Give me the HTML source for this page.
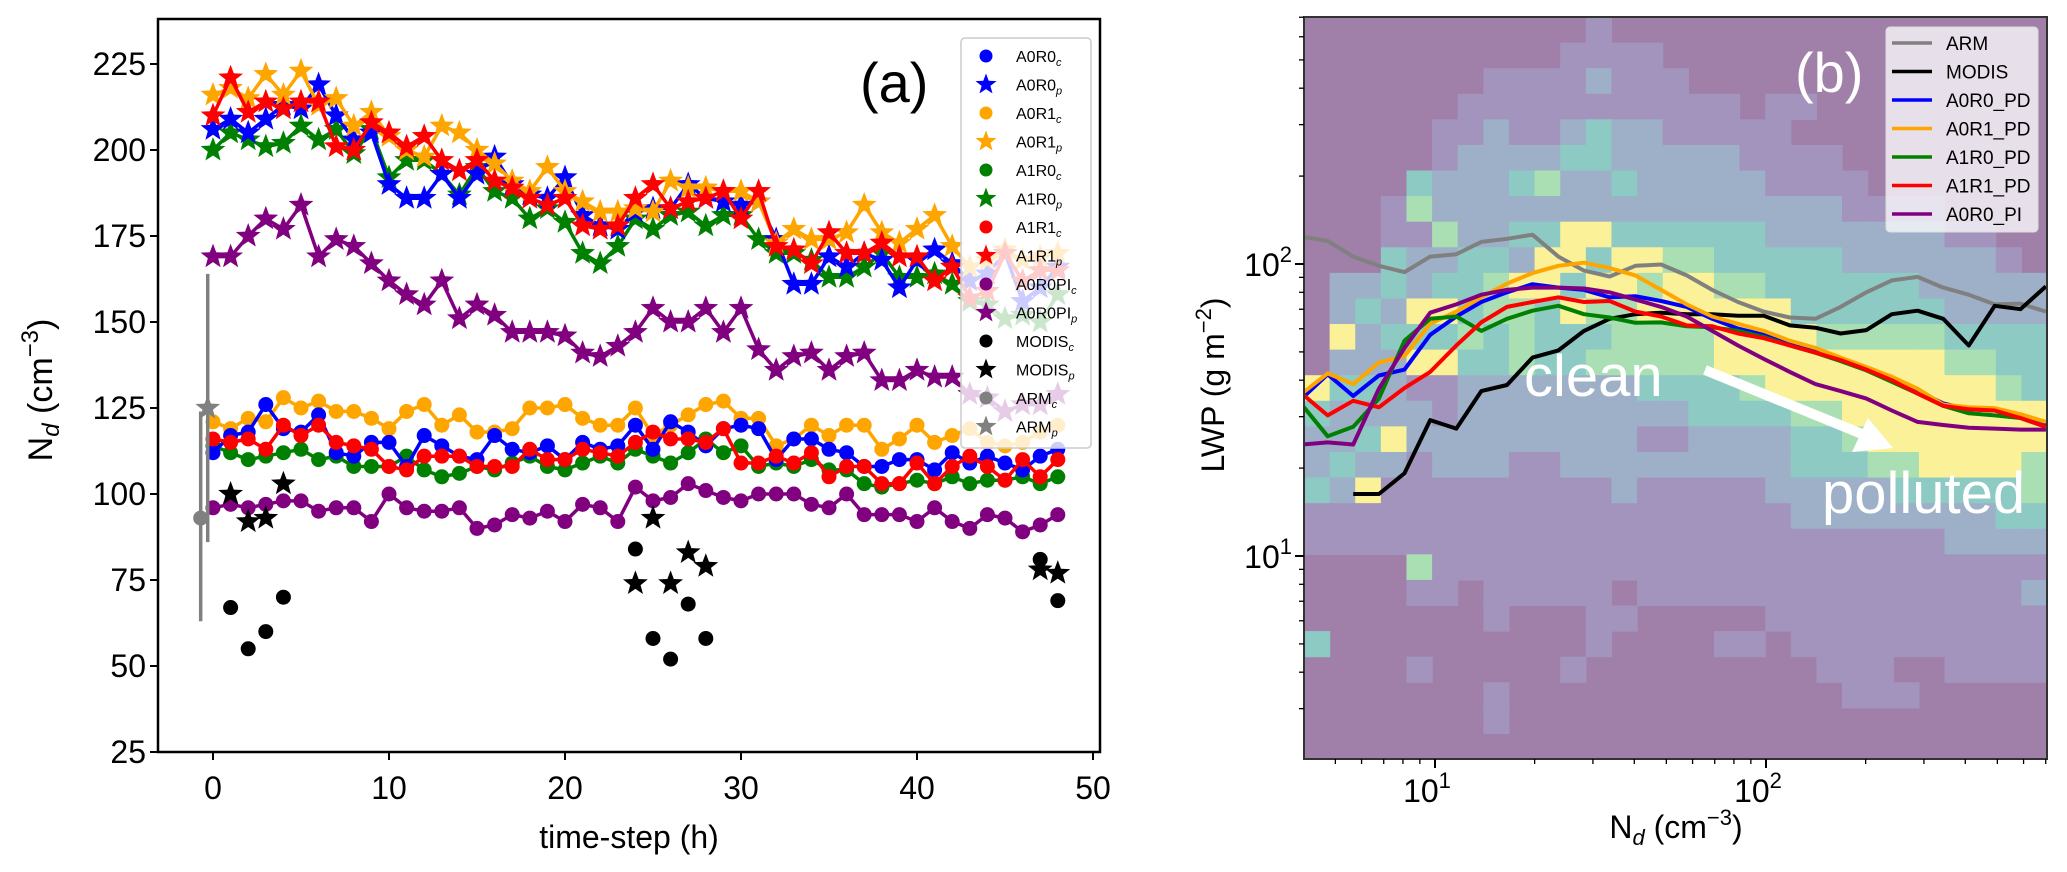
<!DOCTYPE html>
<html><head><meta charset="utf-8"><style>
html,body{margin:0;padding:0;background:#fff;}
svg{display:block;font-family:"Liberation Sans","DejaVu Sans",sans-serif;}
</style></head><body>
<svg id="fig" width="2067" height="872" viewBox="0 0 2067 872" xmlns="http://www.w3.org/2000/svg">
<g id="pa"></g>
<g id="pb"></g>
</svg>
<script>
// ---------- Panel (a) data ----------
const hours = Array.from({length:49},(_,i)=>i);
const a0r1p=[216,218,215,222,216,223,213,215,207,211,204,200,198,207,205,200,196,191,188,195,188,185,182,182,183,182,191,189,189,188,188,185,173,177,174,174,176,184,176,173,177,181,172,166,168,171,168,169,170];
const a0r0p=[206,209,205,209,213,212,219,210,203,205,190,186,186,193,186,193,198,190,187,186,192,181,178,177,182,183,183,190,186,185,184,185,174,161,161,169,166,170,168,160,168,171,167,162,164,170,156,160,166];
const a1r0p=[200,205,203,201,202,207,203,206,199,206,192,197,197,193,187,195,188,186,180,183,179,170,167,172,180,177,181,182,178,181,181,174,170,170,168,163,163,166,170,163,163,164,161,156,155,151,152,150,158];
const a1r1p=[210,221,211,214,212,214,214,201,200,208,205,201,204,197,194,197,191,189,186,184,186,178,177,178,186,190,183,185,186,188,180,188,172,171,167,176,170,170,173,169,169,162,166,157,159,170,162,165,165];
const a0r0pip=[169,169,175,180,177,184,169,174,172,167,162,158,155,162,151,155,152,147,147,147,146,141,140,143,147,154,150,150,154,147,154,142,136,140,141,136,140,141,133,133,136,134,134,129,128,124,126,126,129];
const a0r1c=[121,119,122,121,128,125,127,124,124,122,119,124,126,120,123,118,118,119,125,125,126,122,120,120,125,117,120,123,126,127,122,122,114,116,120,117,120,120,113,116,120,115,117,119,115,114,115,118,120];
const a0r0c=[112,117,118,126,119,118,123,112,111,115,115,108,117,114,111,110,117,113,112,114,110,115,113,114,120,113,121,118,114,119,120,119,110,116,116,113,112,108,108,110,110,107,112,109,111,109,107,111,113];
const a1r0c=[114,112,110,111,112,113,110,111,108,108,108,111,107,105,106,108,107,109,111,108,107,109,111,109,113,111,109,112,116,112,114,108,109,108,110,107,107,103,102,103,104,103,105,103,104,104,105,103,105];
const a1r1c=[116,115,116,113,120,117,120,115,114,113,108,107,111,111,111,108,108,108,113,110,110,113,112,111,115,118,116,116,115,119,109,109,111,109,112,105,108,108,103,103,109,103,108,111,108,104,110,105,110];
const a0r0pic=[96,97,96,97,98,98,95,96,96,92,100,96,95,95,96,90,91,94,93,95,92,97,96,92,102,98,99,103,101,99,98,100,100,100,97,96,100,94,94,94,92,96,92,90,94,93,89,91,94];
const modisT=[1,2,3,4,24,25,26,27,28,47,48];
const modisC=[67,55,60,70,84,58,52,68,58,81,69];
const modisP=[100,92,93,103,74,93,74,83,79,78,77];
const armT=[-0.7,-0.3];
const armVal=[93,125];
const armLo=[63,86];
const armHi=[124,164];
const yTicksA=[25,50,75,100,125,150,175,200,225];
const xTicksA=[0,10,20,30,40,50];

// ---------- Panel (b) data ----------
const ndBins=[3.96,4.74,5.66,6.77,8.09,9.67,11.6,13.8,16.5,19.7,23.6,28.2,33.7,40.3,48.2,57.6,68.8,82.3,98.4,118,141,168,201,240,287,343,410,491,587,701];
const lwpARM=[124,120,106,98.6,93.8,106,108,119,122,126,106,94.9,90.6,98.6,99.6,91.4,81.5,74.1,68.7,65.6,64.9,71.3,80,87.9,90.3,83,78.5,72.7,73.2,68.7];
const lwpMODIS=[null,null,16.3,16.3,19.2,29.2,27.3,36.7,38.5,47.8,50.6,59,64.9,67.3,68.1,67.3,67.3,66.5,66.5,61.6,60.5,57.8,59.4,67.3,69.2,64.9,52.6,71.9,70,83.8];
const lwpA0R0=[34.6,41.9,35.3,41.5,43.5,57.2,66.1,74.1,80,85.3,83,81.5,76.9,77.6,74.7,71.3,64.9,60.1,57.2,53.5,50.6,46.9,43.5,40.3,36.7,33.3,31.8,31.5,29.7,28.1];
const lwpA0R1=[36,42.2,38.8,46,48.4,62.4,68.7,76.9,85.7,93.1,98.6,101,96.8,91.4,81.5,72.7,66.1,62.4,59,54.6,51.6,47.8,44.4,41.1,37.4,33,32.3,32.1,30.6,28.8];
const lwpA1R0=[33,25.7,27.7,34.6,54.6,64.9,66.1,59,64.9,69.2,71.9,67.3,65.6,62.9,63.1,61.2,60.7,59,56.3,52.6,49.7,46.5,43.2,39.5,36,32.7,30.8,30.3,29.7,27.7];
const lwpA1R1=[36,30.3,34,32.3,37.6,42.7,52.6,63.1,71.3,74.1,76.9,74.1,74.7,68.7,66.1,61.6,61.2,57.8,55.7,52.6,49.7,46.9,43.5,40,36,32.7,31.8,31.5,29.7,27.7];
const lwpA0R0PI=[24.1,24.5,24.1,37.4,51.6,68.1,72.7,78.5,81.5,83,83,82.4,80,75.5,71.3,66.1,59,52.6,47.3,42.7,38.8,36.7,34.6,31.5,28.8,28.1,27.5,27.3,27.1,27.1];
const heatRows=[
"00000000000100000000000000000",
"00000000001111000000000000000",
"00000001111211100000000000000",
"00000011111111111011000000000",
"00000112112322111110000000000",
"00000122223322222111100000000",
"00003222342232222211110000000",
"00014222222222222222211110000",
"00011422335533333322222221100",
"00032233255355443333322222210",
"02232334553554554433333322222",
"02325534435445555553333332222",
"05233343433344445555444443333",
"02225533433444445555555554433",
"53321122222223333455555555543",
"32222122222222233334455555555",
"22352222222221122223345555555",
"23221222112222222223334455554",
"32511111111121111122222333334",
"11111111111111111112222222233",
"11111111111111111111111112222",
"00004111111111111111111111111",
"00001101111101111111111111112",
"00000001000110000011111111111",
"30000000000100001101111111111",
"00001000001000000000111001111",
"00000001000000000000011100000",
"00000001000000000000000000000",
"00000000000000000000000000000"];
const heatColors=["#a07fa8","#a394be","#9db0c8","#8ecac4","#a9dfb3","#fbf199"];

const NS="http://www.w3.org/2000/svg";
function mk(tag,attrs,parent){const e=document.createElementNS(NS,tag);for(const k in attrs)e.setAttribute(k,attrs[k]);parent.appendChild(e);return e;}
function starPts(cx,cy,R){const r=R*0.42;let p=[];for(let i=0;i<10;i++){const a=-Math.PI/2+i*Math.PI/5;const rr=i%2?r:R;p.push((cx+rr*Math.cos(a)).toFixed(1)+","+(cy+rr*Math.sin(a)).toFixed(1));}return p.join(" ");}

// ---------- Panel (a) ----------
const pa=document.getElementById('pa');
const AL=158,AR=1100,AT=19,AB=752;
const xA=t=>213+(t-0)*(1093-213)/50;
const yA=v=>752-(v-25)*(752-64)/200;
mk('rect',{x:AL,y:AT,width:AR-AL,height:AB-AT,fill:'#fff'},pa);

function drawSeries(vals,color,marker,name){
  const g=mk('g',{},pa);
  
  
  const pts=vals.map((v,i)=>xA(hours[i]).toFixed(1)+","+yA(v).toFixed(1)).join(" ");
  const l=mk('polyline',{points:pts,fill:'none',stroke:color,'stroke-width':3.5,'stroke-linejoin':'round'},g);
  
  
  vals.forEach((v,i)=>{
    let m;
    if(marker==='o') m=mk('circle',{cx:xA(hours[i]),cy:yA(v),r:7.5,fill:color},g);
    else m=mk('polygon',{points:starPts(xA(hours[i]),yA(v),13),fill:color},g);
    
    
  });
}
drawSeries(a0r0pip,'#800080','*','a0r0pi-p-series');
drawSeries(a1r0p,'#008000','*','a1r0-p-series');
drawSeries(a0r0p,'#0000ff','*','a0r0-p-series');
drawSeries(a0r1p,'#ffa500','*','a0r1-p-series');
drawSeries(a1r1p,'#ff0000','*','a1r1-p-series');
drawSeries(a0r0pic,'#800080','o','a0r0pi-c-series');
drawSeries(a1r0c,'#008000','o','a1r0-c-series');
drawSeries(a0r1c,'#ffa500','o','a0r1-c-series');
drawSeries(a0r0c,'#0000ff','o','a0r0-c-series');
drawSeries(a1r1c,'#ff0000','o','a1r1-c-series');
modisT.forEach((t,i)=>{
  const c=mk('circle',{cx:xA(t),cy:yA(modisC[i]),r:7.5,fill:'#000'},pa);
  
  
  const s=mk('polygon',{points:starPts(xA(t),yA(modisP[i]),13),fill:'#000'},pa);
  
  
});
armT.forEach((t,i)=>{
  const e=mk('line',{x1:xA(t),x2:xA(t),y1:yA(armLo[i]),y2:yA(armHi[i]),stroke:'#808080','stroke-width':3.5},pa);
  
  
});
{const c=mk('circle',{cx:xA(armT[0]),cy:yA(armVal[0]),r:7.5,fill:'#808080'},pa);


const s=mk('polygon',{points:starPts(xA(armT[1]),yA(armVal[1]),13),fill:'#808080'},pa);

}
mk('rect',{x:AL,y:AT,width:AR-AL,height:AB-AT,fill:'none',stroke:'#000','stroke-width':2.5},pa);
yTicksA.forEach(v=>{
  mk('line',{x1:AL-8,x2:AL,y1:yA(v),y2:yA(v),stroke:'#000','stroke-width':2},pa);
  const t=mk('text',{x:AL-12,y:yA(v)+11,'text-anchor':'end','font-size':32,fill:'#000'},pa);
  t.textContent=v;
  
  
});
xTicksA.forEach(v=>{
  mk('line',{x1:xA(v),x2:xA(v),y1:AB,y2:AB+8,stroke:'#000','stroke-width':2},pa);
  const t=mk('text',{x:xA(v),y:AB+47,'text-anchor':'middle','font-size':32,fill:'#000'},pa);
  t.textContent=v;
  
  
});
</script>
<script>
(function(){
const pa=document.getElementById('pa');
const NS="http://www.w3.org/2000/svg";
pa.insertAdjacentHTML('beforeend',
 '<text x="629" y="848" text-anchor="middle" font-size="32">time-step (h)</text>'+
 '<text transform="translate(52,390) rotate(-90)" text-anchor="middle" font-size="34">N<tspan font-size="24" dy="7" font-style="italic">d</tspan><tspan dy="-7"> (cm</tspan><tspan font-size="24" dy="-14">−3</tspan><tspan dy="14">)</tspan></text>'+
 '<text x="860" y="102" font-size="56">(a)</text>');
const names=[['A0R0','c','#0000ff','o'],['A0R0','p','#0000ff','*'],['A0R1','c','#ffa500','o'],['A0R1','p','#ffa500','*'],['A1R0','c','#008000','o'],['A1R0','p','#008000','*'],['A1R1','c','#ff0000','o'],['A1R1','p','#ff0000','*'],['A0R0PI','c','#800080','o'],['A0R0PI','p','#800080','*'],['MODIS','c','#000','o'],['MODIS','p','#000','*'],['ARM','c','#808080','o'],['ARM','p','#808080','*']];
const lg=document.createElementNS(NS,'g');


pa.appendChild(lg);
const bx=document.createElementNS(NS,'rect');
[['x',961],['y',38],['width',130],['height',410],['rx',4],['fill','rgba(255,255,255,0.8)'],['stroke','#ccc'],['stroke-width',1.5]].forEach(a=>bx.setAttribute(a[0],a[1]));
lg.appendChild(bx);
names.forEach((n,i)=>{
  const y=56+i*28.5;
  let m;
  if(n[3]==='o'){m=document.createElementNS(NS,'circle');m.setAttribute('cx',986);m.setAttribute('cy',y);m.setAttribute('r',6.5);}
  else{m=document.createElementNS(NS,'polygon');const R=11,r=R*0.42;let p=[];for(let k=0;k<10;k++){const a=-Math.PI/2+k*Math.PI/5;const rr=k%2?r:R;p.push((986+rr*Math.cos(a)).toFixed(1)+','+(y+rr*Math.sin(a)).toFixed(1));}m.setAttribute('points',p.join(' '));}
  m.setAttribute('fill',n[2]);
  lg.appendChild(m);
  const t=document.createElementNS(NS,'text');
  t.setAttribute('x',1016);t.setAttribute('y',y+6);t.setAttribute('font-size',16);
  t.innerHTML=n[0]+'<tspan font-size="11" dy="4" font-style="italic">'+n[1]+'</tspan>';
  
  
  lg.appendChild(t);
});
})();
</script>
<script>
(function(){
const NS="http://www.w3.org/2000/svg";
function mk(tag,attrs,parent){const e=document.createElementNS(NS,tag);for(const k in attrs)e.setAttribute(k,attrs[k]);parent.appendChild(e);return e;}
const pb=document.getElementById('pb');
const BL=1304,BR=2047,BT=17,BB=759;
const xB=n=>1435+(Math.log10(n)-1)*331;
const yB=v=>264-(Math.log10(v)-2)*292;
const nC=29,nR=heatRows.length;
const cw=(BR-BL)/nC,ch=(BB-BT)/nR;
const hg=mk('g',{},pb);


mk('rect',{x:BL,y:BT,width:BR-BL,height:BB-BT,fill:heatColors[0]},hg);
heatRows.forEach((row,r)=>{
  for(let c=0;c<nC;c++){
    const lv=+(row[c]||0);
    if(lv===0)continue;
    const cell=mk('rect',{x:(BL+c*cw).toFixed(2),y:(BT+r*ch).toFixed(2),width:(cw+0.6).toFixed(2),height:(ch+0.6).toFixed(2),fill:heatColors[lv]},hg);
    
    
  }
});
const series=[[lwpARM,'#808080','arm-line'],[lwpMODIS,'#000000','modis-line'],[lwpA0R0,'#0000ff','a0r0-pd-line'],[lwpA0R1,'#ffa500','a0r1-pd-line'],[lwpA1R0,'#008000','a1r0-pd-line'],[lwpA1R1,'#ff0000','a1r1-pd-line'],[lwpA0R0PI,'#800080','a0r0-pi-line']];
const clip=mk('clipPath',{id:'clipb'},pb);
mk('rect',{x:BL,y:BT,width:BR-BL,height:BB-BT},clip);
series.forEach(s=>{
  const pts=[];
  s[0].forEach((v,i)=>{if(v!==null)pts.push(xB(ndBins[i]).toFixed(1)+','+yB(v).toFixed(1));});
  const l=mk('polyline',{points:pts.join(' '),fill:'none',stroke:s[1],'stroke-width':4,'stroke-linejoin':'round','clip-path':'url(#clipb)'},pb);
  
  
});
pb.insertAdjacentHTML('beforeend',
 '<text x="1524" y="396" font-size="58" fill="#fff">clean</text>'+
 '<line x1="1705" y1="370" x2="1862" y2="434" stroke="#fff" stroke-width="10"/>'+
 '<polygon points="1893,448 1852,452 1868,418" fill="#fff"/>'+
 '<text x="1822" y="513" font-size="58" fill="#fff">polluted</text>'+
 '<text x="1795" y="92" font-size="56" fill="#fff">(b)</text>');
mk('rect',{x:BL,y:BT,width:BR-BL,height:BB-BT,fill:'none',stroke:'#333','stroke-width':2},pb);
const xDec=[10,100];
for(let d=1;d<1000;d*=10){for(let m=1;m<10;m++){const v=d*m;const x=xB(v);if(x<BL||x>BR)continue;const maj=m===1;mk('line',{x1:x,x2:x,y1:BB,y2:BB+(maj?9:5),stroke:'#000','stroke-width':maj?2:1.3},pb);}}
for(let d=1;d<1000;d*=10){for(let m=1;m<10;m++){const v=d*m;const y=yB(v);if(y<BT||y>BB)continue;const maj=m===1;mk('line',{x1:BL-(maj?9:5),x2:BL,y1:y,y2:y,stroke:'#000','stroke-width':maj?2:1.3},pb);}}
xDec.forEach((v,i)=>{
  const t=mk('text',{x:xB(v)-8,y:BB+43,'text-anchor':'middle','font-size':32},pb);
  t.innerHTML='10<tspan font-size="22" dy="-14">'+(i+1)+'</tspan>';
  
  
});
[10,100].forEach((v,i)=>{
  const t=mk('text',{x:BL-12,y:yB(v)+12,'text-anchor':'end','font-size':32},pb);
  t.innerHTML='10<tspan font-size="22" dy="-14">'+(i+1)+'</tspan>';
  
  
});
pb.insertAdjacentHTML('beforeend',
 '<text x="1676" y="838" text-anchor="middle" font-size="32">N<tspan font-size="22" dy="7" font-style="italic">d</tspan><tspan dy="-7"> (cm</tspan><tspan font-size="22" dy="-13">−3</tspan><tspan dy="13">)</tspan></text>'+
 '<text transform="translate(1224,385) rotate(-90)" text-anchor="middle" font-size="32">LWP (g m<tspan font-size="22" dy="-13">−2</tspan><tspan dy="13">)</tspan></text>');
const lg=mk('g',{},pb);


mk('rect',{x:1886,y:27,width:152,height:205,rx:4,fill:'rgba(255,255,255,0.75)',stroke:'#ddd','stroke-width':1},lg);
const ln=[['ARM','#808080'],['MODIS','#000'],['A0R0_PD','#0000ff'],['A0R1_PD','#ffa500'],['A1R0_PD','#008000'],['A1R1_PD','#ff0000'],['A0R0_PI','#800080']];
ln.forEach((e,i)=>{
  const y=43+i*28.5;
  mk('line',{x1:1892,x2:1932,y1:y,y2:y,stroke:e[1],'stroke-width':3.5},lg);
  const t=mk('text',{x:1946,y:y+7,'font-size':19},lg);
  t.textContent=e[0];
  
  
});
})();
</script>
</body></html>
